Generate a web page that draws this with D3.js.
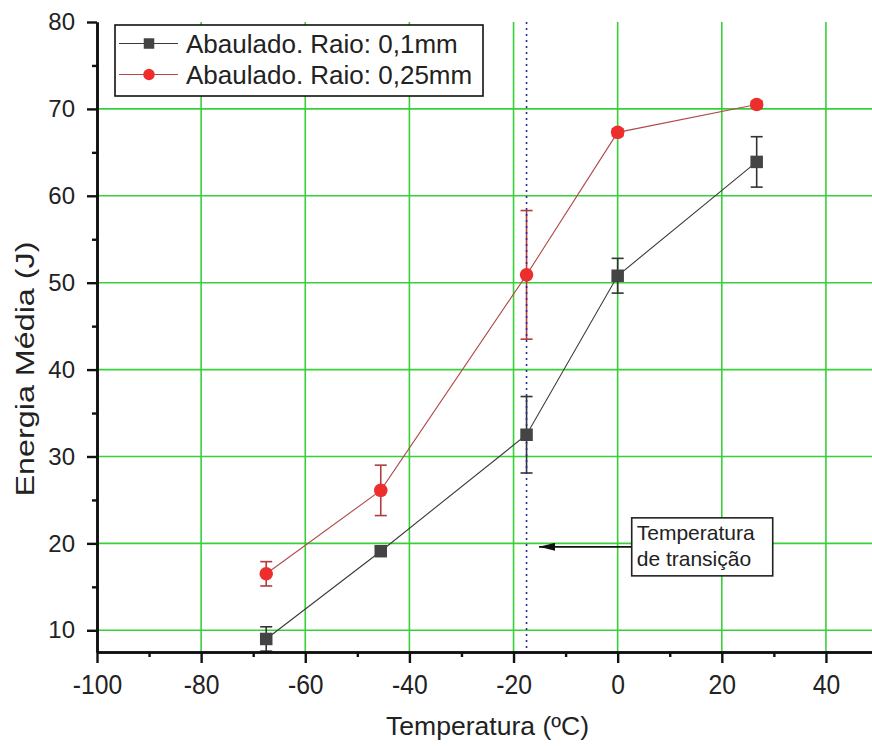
<!DOCTYPE html>
<html>
<head>
<meta charset="utf-8">
<script src="https://cdn.jsdelivr.net/npm/d3@7"></script>
<style>
  body { margin: 0; background: #fff; }
  svg { display: block; font-family: "Liberation Sans", Arial, sans-serif; }
</style>
</head>
<body>
<svg></svg>
<script>
var WIDTH = 872;
var HEIGHT = 747;

//data
var temps = [-67.5, -45.5, -17.5, 0, 26.7];
var energy01 = [9.0, 19.1, 32.5, 50.8, 63.9];
var err01 = [1.4, 0.5, 4.4, 2.0, 2.9];
var energy025 = [16.5, 26.1, 50.9, 67.3, 70.5];
var err025 = [1.4, 2.9, 7.4, 0.4, 0.4];
var seriesNames = ['Abaulado. Raio: 0,1mm', 'Abaulado. Raio: 0,25mm'];
var xMajor = [-100, -80, -60, -40, -20, 0, 20, 40];
var xMinor = [-90, -70, -50, -30, -10, 10, 30, 50];
var yMajor = [10, 20, 30, 40, 50, 60, 70, 80];
var yMinor = [15, 25, 35, 45, 55, 65, 75];
var transitionTemp = -17.5;
var noteLines = ['Temperatura', 'de transição'];
var noteArrow = { from: 2.7, to: -15.1, y: 19.6 };

var margin = { left: 97, top: 22, right: 0, bottom: 95 };

var x = d3.scaleLinear().domain([-100, 50]).range([margin.left, 878]);
var y = d3.scaleLinear().domain([7.5, 80]).range([HEIGHT - margin.bottom, margin.top]);

var svg = d3.select('svg').attr('width', WIDTH).attr('height', HEIGHT);

var green = '#38d038';

//grid lines
svg.append('g').selectAll('line')
    .data(xMajor.filter(function(d) { return d > -100; }))
    .enter().append('line')
    .attr('x1', function(d) { return x(d); }).attr('x2', function(d) { return x(d); })
    .attr('y1', y(80)).attr('y2', y(7.5))
    .attr('stroke', green).attr('stroke-width', 1.6);
svg.append('g').selectAll('line')
    .data(yMajor.filter(function(d) { return d < 80; }))
    .enter().append('line')
    .attr('x1', x(-100)).attr('x2', x(50))
    .attr('y1', function(d) { return y(d); }).attr('y2', function(d) { return y(d); })
    .attr('stroke', green).attr('stroke-width', 1.6);

//series build
var series = [
    { name: seriesNames[0], vals: energy01, errs: err01, line: '#3a3a3a', err: '#333', fill: '#444', shape: 'square' },
    { name: seriesNames[1], vals: energy025, errs: err025, line: '#b04a4a', err: '#b03c3c', fill: '#ee2d2d', shape: 'circle' }
];

var lineGen = d3.line()
    .x(function(d, i) { return x(temps[i]); })
    .y(function(d) { return y(d); });

series.forEach(function(s) {
    svg.append('path')
        .attr('d', lineGen(s.vals))
        .attr('fill', 'none')
        .attr('stroke', s.line)
        .attr('stroke-width', 1.1);
});

//error bars
series.forEach(function(s) {
    var g = svg.append('g').attr('stroke', s.err).attr('stroke-width', 1.6);
    s.vals.forEach(function(v, i) {
        var cx = x(temps[i]);
        var lo = Math.max(v - s.errs[i], 7.5);
        g.append('line').attr('x1', cx).attr('x2', cx).attr('y1', y(v + s.errs[i])).attr('y2', y(lo));
        g.append('line').attr('x1', cx - 6).attr('x2', cx + 6).attr('y1', y(v + s.errs[i])).attr('y2', y(v + s.errs[i]));
        if (v - s.errs[i] > 7.5) {
            g.append('line').attr('x1', cx - 6).attr('x2', cx + 6).attr('y1', y(v - s.errs[i])).attr('y2', y(v - s.errs[i]));
        }
    });
});

//transition line
svg.append('line')
    .attr('x1', x(transitionTemp)).attr('x2', x(transitionTemp))
    .attr('y1', y(80)).attr('y2', y(7.5))
    .attr('stroke', '#2a2a9a').attr('stroke-width', 1.6)
    .attr('stroke-dasharray', '2,4');

function drawMarker(g, s, cx, cy, size) {
    if (s.shape === 'square') {
        g.append('rect')
            .attr('x', cx - size / 2).attr('y', cy - size / 2)
            .attr('width', size).attr('height', size)
            .attr('fill', s.fill);
    } else {
        g.append('circle')
            .attr('cx', cx).attr('cy', cy).attr('r', size / 2 + 0.5)
            .attr('fill', s.fill);
    }
}

series.forEach(function(s) {
    var g = svg.append('g');
    s.vals.forEach(function(v, i) {
        drawMarker(g, s, x(temps[i]), y(v), 12.5);
    });
});

//axes, plain hyphen for negatives like the original
var plain = function(d) { return String(d); };
var xAxis = d3.axisBottom(x).tickValues(xMajor).tickSize(11).tickSizeOuter(0).tickPadding(9).tickFormat(plain);
var xAxisMinor = d3.axisBottom(x).tickValues(xMinor).tickSize(5).tickSizeOuter(0).tickFormat('');
var yAxis = d3.axisLeft(y).tickValues(yMajor).tickSize(10).tickSizeOuter(0).tickPadding(12).tickFormat(plain);
var yAxisMinor = d3.axisLeft(y).tickValues(yMinor).tickSize(5).tickSizeOuter(0).tickFormat('');

var xg = svg.append('g').attr('transform', 'translate(0,' + y(7.5) + ')');
xg.call(xAxisMinor);
xg.append('g').call(xAxis);
var yg = svg.append('g').attr('transform', 'translate(' + x(-100) + ',0)');
yg.call(yAxisMinor);
yg.append('g').call(yAxis);

svg.selectAll('.domain').attr('stroke', '#111').attr('stroke-width', 2.6);
svg.selectAll('.tick line').attr('stroke', '#111').attr('stroke-width', 2.4);
xg.selectAll('text').attr('font-size', 26).attr('fill', '#222')
    .attr('font-family', '"Liberation Sans", Arial, sans-serif')
    .attr('transform', 'scale(0.95,1.08)');
yg.selectAll('text').attr('font-size', 24).attr('fill', '#222')
    .attr('font-family', '"Liberation Sans", Arial, sans-serif');

//axis titles
svg.append('text')
    .attr('x', (x(-100) + x(50)) / 2).attr('y', 735)
    .attr('text-anchor', 'middle')
    .attr('font-size', 26).attr('fill', '#222')
    .attr('textLength', 203).attr('lengthAdjust', 'spacingAndGlyphs')
    .text('Temperatura (ºC)');
svg.append('text')
    .attr('transform', 'translate(34,369) rotate(-90)')
    .attr('text-anchor', 'middle')
    .attr('font-size', 25).attr('fill', '#222')
    .attr('textLength', 255).attr('lengthAdjust', 'spacingAndGlyphs')
    .text('Energia Média (J)');

//legend
var legend = svg.append('g');
legend.append('rect')
    .attr('x', 115).attr('y', 25).attr('width', 368).attr('height', 71)
    .attr('fill', '#fff').attr('stroke', '#111').attr('stroke-width', 1.6);
series.forEach(function(s, i) {
    var ly = 43.5 + i * 31;
    legend.append('line')
        .attr('x1', 119).attr('x2', 178).attr('y1', ly).attr('y2', ly)
        .attr('stroke', s.line).attr('stroke-width', 1.2);
    drawMarker(legend, s, 149, ly, 10.5);
    legend.append('text')
        .attr('x', 186).attr('y', ly + 9.5)
        .attr('font-size', 26).attr('fill', '#222')
        .text(s.name);
});

//annotation
var ax0 = x(noteArrow.from), ax1 = x(noteArrow.to), ay = y(noteArrow.y);
svg.append('defs').append('marker')
    .attr('id', 'arrowhead')
    .attr('viewBox', '0 0 16 8').attr('refX', 16).attr('refY', 4)
    .attr('markerWidth', 16).attr('markerHeight', 8)
    .attr('markerUnits', 'userSpaceOnUse')
    .attr('orient', 'auto')
    .append('path').attr('d', 'M16,4 L0,0 L0,8 Z').attr('fill', '#111');
svg.append('line')
    .attr('x1', ax0).attr('x2', ax1).attr('y1', ay).attr('y2', ay)
    .attr('stroke', '#111').attr('stroke-width', 1.6)
    .attr('marker-end', 'url(#arrowhead)');
svg.append('rect')
    .attr('x', ax0).attr('y', ay - 29).attr('width', 141).attr('height', 58)
    .attr('fill', '#fff').attr('stroke', '#222').attr('stroke-width', 1.6);
noteLines.forEach(function(t, i) {
    svg.append('text')
        .attr('x', ax0 + 5).attr('y', ay - 7 + i * 26)
        .attr('font-size', 21).attr('fill', '#222')
        .text(t);
});
</script>
</body>
</html>
